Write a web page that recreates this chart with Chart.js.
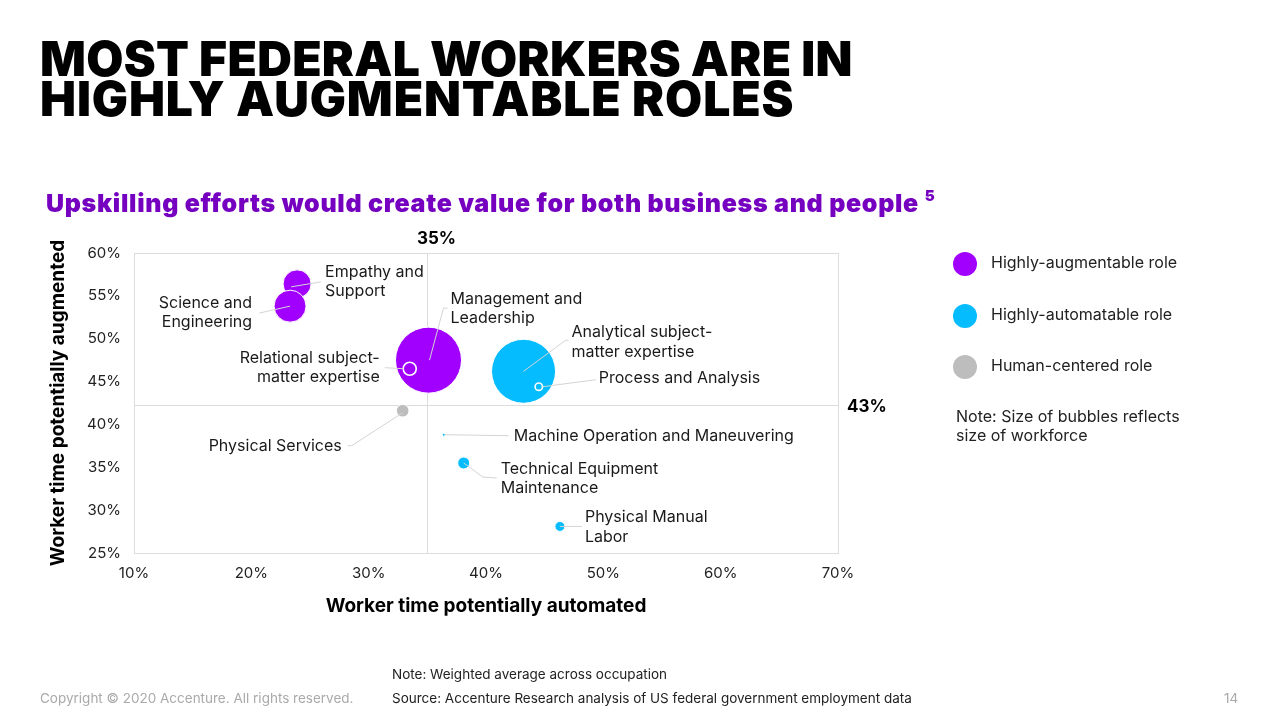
<!DOCTYPE html>
<html>
<head>
<meta charset="utf-8">
<script src="https://cdn.jsdelivr.net/npm/chart.js@4.4.1/dist/chart.umd.min.js"></script>
<style>
  body { margin: 0; background: #fff; font-family: Inter, "Noto Sans", sans-serif; }
  #page { position: relative; width: 1280px; height: 720px; overflow: hidden; }
  #chart { position: absolute; left: 0; top: 0; }
  .t { position: absolute; white-space: nowrap; color: #000; }
  #title { left: 40px; top: 39px; font-size: 48px; font-weight: 900; line-height: 40px; letter-spacing: 0.3px; }
  #title .l2 { letter-spacing: 0.9px; }
  #subtitle { left: 46px; top: 188px; font-size: 25px; font-weight: 900; color: #7500c0; letter-spacing: 0.7px; }
  #subtitle sup { font-size: 15px; position: relative; top: -2px; }
  .legend { position: absolute; left: 953px; font-size: 16px; color: #222; }
  .legend span { display: inline-block; width: 24px; height: 24px; border-radius: 50%; vertical-align: middle; margin-right: 14px; }
  .small { font-size: 13.5px; color: #222; }
  .gray { font-size: 13.5px; color: #aaa; }
</style>
</head>
<body>
<div id="page">
  <canvas id="chart" width="1280" height="720"></canvas>
  <div class="t" id="title">MOST FEDERAL WORKERS ARE IN<br><span class="l2">HIGHLY AUGMENTABLE ROLES</span></div>
  <div class="t" id="subtitle">Upskilling efforts would create value for both business and people <sup>5</sup></div>
  <div id="legendBox"></div>
  <div class="t legend" style="left:956px; top:407px; line-height:19px;">Note: Size of bubbles reflects<br>size of workforce</div>
  <div class="t small" style="left:392px; top:666px;">Note: Weighted average across occupation</div>
  <div class="t small" style="left:392px; top:690px;">Source: Accenture Research analysis of US federal government employment data</div>
  <div class="t gray" style="left:40px; top:690px;">Copyright © 2020 Accenture. All rights reserved.</div>
  <div class="t gray" style="left:1224px; top:690px;">14</div>
</div>
<script>
// role groups
const groupNames = ['Highly-augmentable role', 'Highly-automatable role', 'Human-centered role'];
const groupColors = ['#a100ff', '#05bcff', '#bdbdbd'];

// bubbles: name, automated %, augmented %, bubble radius (workforce size)
const augmentNames = ['Empathy and\nSupport', 'Science and\nEngineering', 'Management and\nLeadership', 'Relational subject-\nmatter expertise'];
const augmentX = [23.9, 23.3, 35.1, 33.5];
const augmentY = [56.4, 53.8, 47.5, 46.5];
const augmentR = [14, 16, 33, 6.5];

const automateNames = ['Analytical subject-\nmatter expertise', 'Process and Analysis', 'Machine Operation and Maneuvering', 'Technical Equipment\nMaintenance', 'Physical Manual\nLabor'];
const automateX = [43.2, 44.5, 36.4, 38.1, 46.3];
const automateY = [46.2, 44.4, 38.8, 35.5, 28.1];
const automateR = [32, 3.7, 1.5, 6, 5];

const humanNames = ['Physical Services'];
const humanX = [32.9];
const humanY = [41.6];
const humanR = [6.3];

// reference averages
const avgAutomated = 35;
const avgAugmented = 42.3;
const avgAutomatedLabel = '35%';
const avgAugmentedLabel = '43%';

const xTicks = [10, 20, 30, 40, 50, 60, 70];
const yTicks = [25, 30, 35, 40, 45, 50, 55, 60];

// label placement (pixel offsets from bubble centre), leader line points
const labelLayout = {
  'Empathy and\nSupport': { dx: 28, dy: -12, align: 'left', line: [[-6, 3], [24, -2]] },
  'Science and\nEngineering': { dx: -38, dy: -3, align: 'right', line: [[0, 0], [-31, 7]] },
  'Management and\nLeadership': { dx: 22, dy: -61, align: 'left', line: [[1, 0], [15, -52], [19, -52]] },
  'Relational subject-\nmatter expertise': { dx: -30, dy: -11, align: 'right', line: [[-25, -1], [-6, 0]] },
  'Analytical subject-\nmatter expertise': { dx: 48, dy: -39, align: 'left', line: [[0, 0], [42, -31], [45, -31]] },
  'Process and Analysis': { dx: 60, dy: -9, align: 'left', line: [[4, 0], [57, -7]] },
  'Machine Operation and Maneuvering': { dx: 70, dy: 1, align: 'left', line: [[1, 0], [65, 1]] },
  'Technical Equipment\nMaintenance': { dx: 37, dy: 6, align: 'left', line: [[0, 0], [19, 14], [33, 15]] },
  'Physical Manual\nLabor': { dx: 25, dy: -9, align: 'left', line: [[0, 0], [22, 0]] },
  'Physical Services': { dx: -61, dy: 35, align: 'right', line: [[0, 2], [-51, 35], [-55, 35]] }
};
const ringed = ['Relational subject-\nmatter expertise', 'Process and Analysis'];

function points(names, xs, ys, rs) {
  return names.map((n, i) => ({ x: xs[i], y: ys[i], r: rs[i], name: n }));
}

function ringBorder(ctx) {
  const p = ctx.raw;
  return p && ringed.includes(p.name) ? 1.6 : 1;
}

// legend
const legendBox = document.getElementById('legendBox');
const legendTops = [252, 304, 355];
groupNames.forEach((g, i) => {
  const d = document.createElement('div');
  d.className = 't legend';
  d.style.top = legendTops[i] + 'px';
  d.innerHTML = `<span style="background:${groupColors[i]}"></span>${g}`;
  legendBox.appendChild(d);
});

const overlay = {
  id: 'overlay',
  beforeDatasetsDraw(chart) {
    const { ctx, chartArea: a, scales: { x, y } } = chart;
    ctx.save();
    ctx.strokeStyle = '#dcdcdc';
    ctx.lineWidth = 1;
    ctx.strokeRect(a.left + 0.5, a.top + 0.5, a.right - a.left, a.bottom - a.top);
    const vx = Math.round(x.getPixelForValue(avgAutomated)) + 0.5;
    const hy = Math.round(y.getPixelForValue(avgAugmented)) + 0.5;
    ctx.beginPath();
    ctx.moveTo(vx, a.top); ctx.lineTo(vx, a.bottom);
    ctx.moveTo(a.left, hy); ctx.lineTo(a.right, hy);
    ctx.stroke();
    ctx.fillStyle = '#000';
    ctx.font = 'bold 17px Inter';
    ctx.textBaseline = 'middle';
    ctx.textAlign = 'center';
    ctx.fillText(avgAutomatedLabel, vx + 9, a.top - 14);
    ctx.textAlign = 'left';
    ctx.fillText(avgAugmentedLabel, a.right + 9, hy + 1);
    ctx.restore();
  },
  afterDatasetsDraw(chart) {
    const { ctx, scales: { x, y } } = chart;
    ctx.save();
    chart.data.datasets.forEach(ds => {
      ds.data.forEach(p => {
        const L = labelLayout[p.name];
        if (!L) return;
        const cx = x.getPixelForValue(p.x), cy = y.getPixelForValue(p.y);
        ctx.strokeStyle = '#d4d4d4';
        ctx.lineWidth = 1;
        ctx.beginPath();
        L.line.forEach(([dx, dy], k) => k ? ctx.lineTo(cx + dx, cy + dy) : ctx.moveTo(cx + dx, cy + dy));
        ctx.stroke();
        ctx.fillStyle = '#1a1a1a';
        ctx.font = '16px Inter';
        ctx.textAlign = L.align;
        ctx.textBaseline = 'middle';
        p.name.split('\n').forEach((t, k) => ctx.fillText(t, cx + L.dx, cy + L.dy + k * 19.5));
      });
    });
    ctx.restore();
  }
};

new Chart(document.getElementById('chart'), {
  type: 'bubble',
  data: {
    datasets: [
      { label: groupNames[2], data: points(humanNames, humanX, humanY, humanR), backgroundColor: groupColors[2], borderColor: '#fff', borderWidth: 1 },
      { label: groupNames[1], data: points(automateNames, automateX, automateY, automateR), backgroundColor: groupColors[1], borderColor: '#fff', borderWidth: ringBorder },
      { label: groupNames[0], data: points(augmentNames, augmentX, augmentY, augmentR), backgroundColor: groupColors[0], borderColor: '#fff', borderWidth: ringBorder }
    ]
  },
  options: {
    responsive: false,
    animation: false,
    layout: { padding: { left: 40, top: 253, right: 442, bottom: 90 } },
    plugins: { legend: { display: false }, tooltip: { enabled: false } },
    scales: {
      x: {
        type: 'linear', min: 10, max: 70,
        afterFit(s) { s.height = 77; },
        afterBuildTicks(s) { s.ticks = xTicks.map(v => ({ value: v })); },
        grid: { display: false, drawTicks: false },
        border: { display: false },
        ticks: { padding: 11, color: '#222', font: { family: 'Inter', size: 15 }, callback: v => v + '%' },
        title: { display: true, text: 'Worker time potentially automated', color: '#000', font: { family: 'Inter', size: 19, weight: 'bold' }, padding: { top: 12.6, bottom: 12 } }
      },
      y: {
        type: 'linear', min: 25, max: 60,
        afterFit(s) { s.width = 94; },
        afterBuildTicks(s) { s.ticks = yTicks.map(v => ({ value: v })); },
        grid: { display: false, drawTicks: false },
        border: { display: false },
        ticks: { padding: 13, color: '#222', font: { family: 'Inter', size: 15 }, callback: v => v + '%' },
        title: { display: true, text: 'Worker time potentially augmented', color: '#000', font: { family: 'Inter', size: 19, weight: 'bold' }, padding: { top: 6.6, bottom: 6 } }
      }
    }
  },
  plugins: [overlay]
});
</script>
</body>
</html>
